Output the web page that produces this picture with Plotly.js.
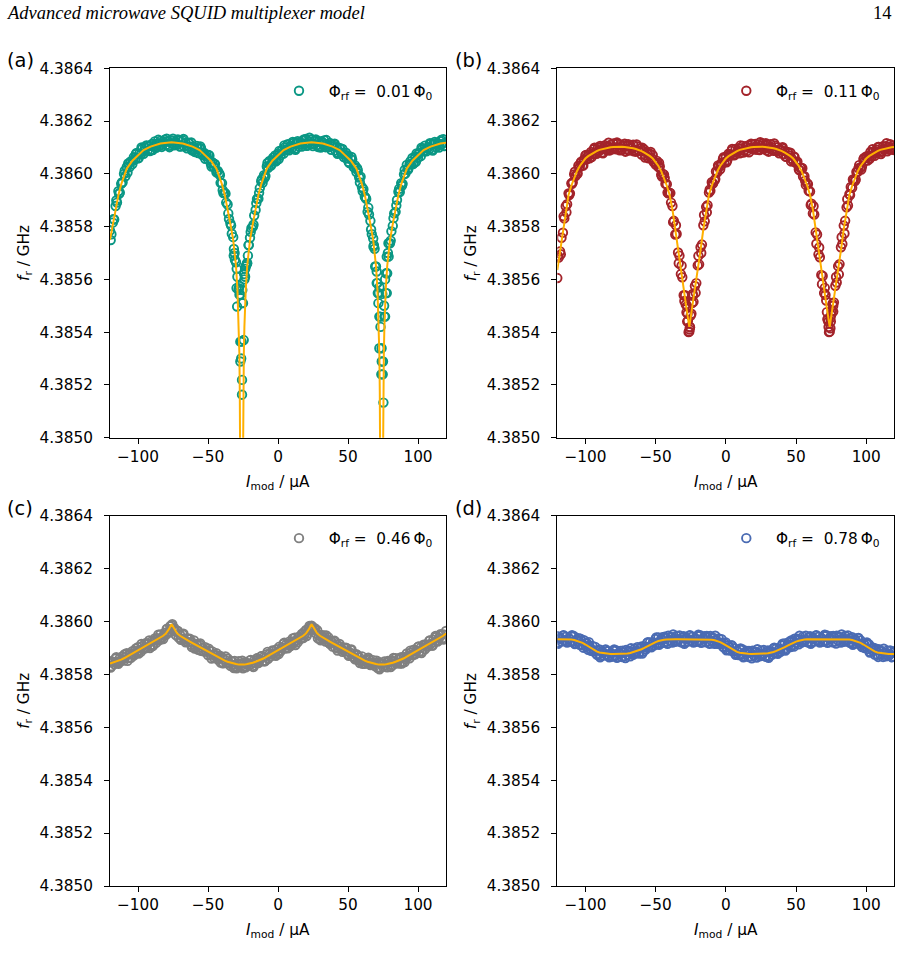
<!DOCTYPE html>
<html>
<head>
<meta charset="utf-8">
<script src="https://cdn.plot.ly/plotly-3.0.1.min.js"></script>
<style>
html, body { margin: 0; padding: 0; background: #fff; }
#chart { width: 901px; height: 964px; }
</style>
</head>
<body>
<div id="chart"></div>
<script>
// Modulation current, first sweep (µA), one sample per µA
const currentGrid = [-120,-119,-118,-117,-116,-115,-114,-113,-112,-111,-110,-109,-108,-107,-106,-105,-104,-103,-102,-101,
-100,-99,-98,-97,-96,-95,-94,-93,-92,-91,-90,-89,-88,-87,-86,-85,-84,-83,-82,-81,
-80,-79,-78,-77,-76,-75,-74,-73,-72,-71,-70,-69,-68,-67,-66,-65,-64,-63,-62,-61,
-60,-59,-58,-57,-56,-55,-54,-53,-52,-51,-50,-49,-48,-47,-46,-45,-44,-43,-42,-41,
-40,-39,-38,-37,-36,-35,-34,-33,-32,-31,-30,-29,-28,-27,-26,-25,-24,-23,-22,-21,
-20,-19,-18,-17,-16,-15,-14,-13,-12,-11,-10,-9,-8,-7,-6,-5,-4,-3,-2,-1,
0,1,2,3,4,5,6,7,8,9,10,11,12,13,14,15,16,17,18,19,
20,21,22,23,24,25,26,27,28,29,30,31,32,33,34,35,36,37,38,39,
40,41,42,43,44,45,46,47,48,49,50,51,52,53,54,55,56,57,58,59,
60,61,62,63,64,65,66,67,68,69,70,71,72,73,74,75,76,77,78,79,
80,81,82,83,84,85,86,87,88,89,90,91,92,93,94,95,96,97,98,99,
100,101,102,103,104,105,106,107,108,109,110,111,112,113,114,115,116,117,118,119,120];

// Modulation current, second sweep (µA), interleaved with the first
const sweep2Grid = [-119.5,-117.5,-115.5,-113.5,-111.5,-109.5,-107.5,-105.5,-103.5,-101.5,
-99.5,-97.5,-95.5,-93.5,-91.5,-89.5,-87.5,-85.5,-83.5,-81.5,
-79.5,-77.5,-75.5,-73.5,-71.5,-69.5,-67.5,-65.5,-63.5,-61.5,
-59.5,-57.5,-55.5,-53.5,-51.5,-49.5,-47.5,-45.5,-43.5,-41.5,
-39.5,-37.5,-35.5,-33.5,-31.5,-29.5,-27.5,-25.5,-23.5,-21.5,
-19.5,-17.5,-15.5,-13.5,-11.5,-9.5,-7.5,-5.5,-3.5,-1.5,
0.5,2.5,4.5,6.5,8.5,10.5,12.5,14.5,16.5,18.5,
20.5,22.5,24.5,26.5,28.5,30.5,32.5,34.5,36.5,38.5,
40.5,42.5,44.5,46.5,48.5,50.5,52.5,54.5,56.5,58.5,
60.5,62.5,64.5,66.5,68.5,70.5,72.5,74.5,76.5,78.5,
80.5,82.5,84.5,86.5,88.5,90.5,92.5,94.5,96.5,98.5,
100.5,102.5,104.5,106.5,108.5,110.5,112.5,114.5,116.5,118.5];

// Model curve sample positions (µA), every 2 µA
const modelGrid = [-120,-118,-116,-114,-112,-110,-108,-106,-104,-102,
-100,-98,-96,-94,-92,-90,-88,-86,-84,-82,
-80,-78,-76,-74,-72,-70,-68,-66,-64,-62,
-60,-58,-56,-54,-52,-50,-48,-46,-44,-42,
-40,-38,-36,-34,-32,-30,-28,-26,-24,-22,
-20,-18,-16,-14,-12,-10,-8,-6,-4,-2,
0,2,4,6,8,10,12,14,16,18,
20,22,24,26,28,30,32,34,36,38,
40,42,44,46,48,50,52,54,56,58,
60,62,64,66,68,70,72,74,76,78,
80,82,84,86,88,90,92,94,96,98,
100,102,104,106,108,110,112,114,116,118,120];

// (a) Φrf = 0.01 Φ0 : measured resonance frequency (GHz)
const freqA = [4.385785,4.385771,4.385815,4.385827,4.385878,4.385891,4.385934,4.385929,4.385962,4.385968,
4.386000,4.385991,4.386026,4.386039,4.386026,4.386047,4.386037,4.386063,4.386056,4.386079,
4.386059,4.386077,4.386073,4.386095,4.386076,4.386099,4.386108,4.386089,4.386105,4.386090,
4.386113,4.386103,4.386123,4.386099,4.386114,4.386106,4.386125,4.386102,4.386123,4.386129,
4.386109,4.386123,4.386106,4.386127,4.386116,4.386133,4.386108,4.386120,4.386111,4.386127,
4.386103,4.386122,4.386127,4.386104,4.386117,4.386097,4.386117,4.386103,4.386119,4.386092,
4.386102,4.386091,4.386106,4.386079,4.386096,4.386097,4.386071,4.386080,4.386057,4.386073,
4.386056,4.386069,4.386039,4.386044,4.386028,4.386037,4.386006,4.386011,4.386002,4.385966,
4.385965,4.385927,4.385928,4.385891,4.385884,4.385829,4.385812,4.385773,4.385760,4.385700,
4.385665,4.385610,4.385567,4.385542,4.385364,4.385510,4.385600,4.385650,4.385661,4.385730,
4.385758,4.385794,4.385799,4.385842,4.385863,4.385905,4.385906,4.385946,4.385972,4.385966,
4.385995,4.385992,4.386028,4.386023,4.386049,4.386031,4.386052,4.386048,4.386070,4.386051,
4.386076,4.386087,4.386071,4.386090,4.386077,4.386101,4.386092,4.386112,4.386089,4.386105,
4.386098,4.386117,4.386095,4.386116,4.386124,4.386104,4.386120,4.386103,4.386125,4.386113,
4.386132,4.386107,4.386121,4.386112,4.386130,4.386105,4.386125,4.386130,4.386109,4.386122,
4.386104,4.386124,4.386111,4.386127,4.386101,4.386112,4.386102,4.386117,4.386091,4.386109,
4.386112,4.386089,4.386101,4.386080,4.386098,4.386081,4.386094,4.386064,4.386072,4.386058,
4.386070,4.386041,4.386056,4.386054,4.386026,4.386032,4.386007,4.386013,4.385986,4.385989,
4.385949,4.385942,4.385913,4.385905,4.385856,4.385846,4.385822,4.385771,4.385755,4.385716,
4.385649,4.385586,4.385548,4.385459,4.385339,4.385289,4.385459,4.385548,4.385623,4.385686,
4.385737,4.385782,4.385803,4.385850,4.385856,4.385901,4.385932,4.385931,4.385965,4.385962,
4.385998,4.386001,4.386034,4.386016,4.386037,4.386035,4.386060,4.386041,4.386066,4.386077,
4.386061,4.386080,4.386067,4.386093,4.386086,4.386107,4.386085,4.386100,4.386093,4.386113,
4.386091,4.386113,4.386121,4.386101,4.386117,4.386100,4.386123,4.386112,4.386131,4.386106,
4.386120];
const freqA2 = [4.385749,4.385828,4.385899,4.385924,4.385967,4.386012,4.386005,4.386045,4.386050,4.386075,
4.386060,4.386100,4.386086,4.386106,4.386086,4.386090,4.386112,4.386129,4.386109,4.386117,
4.386133,4.386101,4.386126,4.386116,4.386130,4.386104,4.386132,4.386106,4.386117,4.386089,
4.386083,4.386097,4.386104,4.386071,4.386067,4.386072,4.386028,4.386038,4.386010,4.385995,
4.385938,4.385925,4.385850,4.385804,4.385715,4.385640,4.385575,4.385560,4.385610,4.385690,
4.385780,4.385807,4.385889,4.385928,4.385980,4.385985,4.386041,4.386033,4.386061,4.386047,
4.386056,4.386085,4.386108,4.386091,4.386101,4.386121,4.386091,4.386119,4.386113,4.386130,
4.386106,4.386137,4.386114,4.386127,4.386102,4.386100,4.386117,4.386128,4.386102,4.386104,
4.386114,4.386076,4.386094,4.386075,4.386080,4.386045,4.386064,4.386026,4.386021,4.385967,
4.385934,4.385910,4.385872,4.385789,4.385730,4.385630,4.385570,4.385545,4.385600,4.385700,
4.385747,4.385832,4.385880,4.385943,4.385955,4.386015,4.386018,4.386047,4.386037,4.386046,
4.386075,4.386099,4.386085,4.386097,4.386116,4.386088,4.386116,4.386110,4.386128,4.386105];

// (a) extra points that fall inside the two narrow dips
const dipCurrentA = [-31.6,-30.8,-29.6,-29.2,-28.1,-27.5,-26.9,-26.9,-26.3,-25.7,-25.7,-25.7,-24.5,-24.2,-23.4,-22.6,-22.1,-20.9,
68.2,69.4,70.5,71.3,71.7,72.4,72.4,74.1,73.8,74.8,75.3,76.5,77.7,77.2,77.7,78.9,73.2,75.8];
const dipFreqA = [4.385690,4.385674,4.385567,4.385497,4.385560,4.385542,4.385364,4.385289,4.385300,4.385219,4.385163,4.385510,4.385370,4.385620,4.385640,4.385655,4.385661,4.385730,
4.385724,4.385649,4.385586,4.385548,4.385510,4.385459,4.385339,4.385289,4.385240,4.385240,4.385133,4.385459,4.385548,4.385623,4.385686,4.385737,4.385420,4.385500];

// (a) model curve, sampled more finely around the dips
const modelCurrentA = [-120,-118,-116,-114,-112,-110,-108,-104,-100,-96,-91,-84,-76,
-68,-61,-56,-52,-48,-44,-42,-40,-38,-36,-34,-32,-31,-30,-29,-28.5,-28,-27.6,-27.3,-27,-26.7,-26.4,-26,
-25.6,-25.3,-25,-24.7,-24.4,-24,-23.5,-23,-22,-21,-20,-18,-16,-14,-12,-10,-8,-4,0,4,9,16,24,
32,39,44,48,52,56,58,60,62,64,66,68,69,70,71,71.5,72,72.4,72.7,73,73.3,73.6,74,
74.4,74.7,75,75.3,75.6,76,76.5,77,78,79,80,82,84,86,88,90,92,96,100,104,109,116,120];
const modelFreqA = [4.38575,4.38581,4.38587,4.38592,4.38596,4.38599,4.38602,4.38605,4.38607,4.38609,4.386103,4.386115,4.38612,
4.386115,4.386103,4.38609,4.38607,4.38605,4.38602,4.38599,4.38596,4.38592,4.38587,4.38581,4.38575,4.38571,4.38565,4.385565,4.3855,4.38542,4.38532,4.38518,4.385,4.3847,4.3843,4.3838,
4.3843,4.3847,4.385,4.38518,4.38532,4.38542,4.3855,4.385565,4.38565,4.38571,4.38575,4.38581,4.38587,4.38592,4.38596,4.38599,4.38602,4.38605,4.38607,4.38609,4.386103,4.386115,4.38612,
4.386115,4.386103,4.38609,4.38607,4.38605,4.38602,4.38599,4.38596,4.38592,4.38587,4.38581,4.38575,4.38571,4.38565,4.385565,4.3855,4.38542,4.38532,4.38518,4.385,4.3847,4.3843,4.3838,
4.3843,4.3847,4.385,4.38518,4.38532,4.38542,4.3855,4.385565,4.38565,4.38571,4.38575,4.38581,4.38587,4.38592,4.38596,4.38599,4.38602,4.38605,4.38607,4.38609,4.386103,4.386115,4.386118];

// (b) Φrf = 0.11 Φ0
const freqB = [4.385605,4.385683,4.385706,4.385758,4.385777,4.385831,4.385877,4.385885,4.385926,4.385926,
4.385964,4.385968,4.385998,4.385992,4.386000,4.386031,4.386026,4.386046,4.386032,4.386055,
4.386070,4.386055,4.386073,4.386059,4.386083,4.386075,4.386093,4.386077,4.386076,4.386100,
4.386087,4.386101,4.386081,4.386099,4.386109,4.386090,4.386105,4.386088,4.386110,4.386099,
4.386115,4.386096,4.386093,4.386114,4.386099,4.386111,4.386090,4.386105,4.386114,4.386093,
4.386107,4.386088,4.386108,4.386096,4.386110,4.386090,4.386084,4.386104,4.386087,4.386097,
4.386073,4.386086,4.386092,4.386069,4.386080,4.386059,4.386076,4.386061,4.386071,4.386046,
4.386035,4.386049,4.386026,4.386028,4.385997,4.386001,4.385997,4.385962,4.385961,4.385926,
4.385929,4.385891,4.385878,4.385822,4.385770,4.385772,4.385702,4.385690,4.385620,4.385608,
4.385540,4.385540,4.385475,4.385443,4.385402,4.385463,4.385510,4.385515,4.385575,4.385586,
4.385653,4.385657,4.385722,4.385732,4.385805,4.385820,4.385875,4.385881,4.385929,4.385936,
4.385968,4.385964,4.385975,4.386009,4.386006,4.386028,4.386017,4.386041,4.386057,4.386044,
4.386064,4.386051,4.386076,4.386069,4.386087,4.386071,4.386070,4.386094,4.386082,4.386097,
4.386078,4.386096,4.386106,4.386088,4.386103,4.386086,4.386108,4.386098,4.386114,4.386095,
4.386092,4.386113,4.386099,4.386111,4.386090,4.386106,4.386115,4.386094,4.386108,4.386089,
4.386110,4.386098,4.386112,4.386092,4.386087,4.386107,4.386090,4.386101,4.386078,4.386092,
4.386098,4.386075,4.386086,4.386065,4.386083,4.386069,4.386080,4.386057,4.386048,4.386063,
4.386041,4.386046,4.386017,4.386023,4.386022,4.385990,4.385991,4.385958,4.385964,4.385936,
4.385933,4.385887,4.385850,4.385846,4.385778,4.385770,4.385695,4.385684,4.385617,4.385613,
4.385548,4.385541,4.385476,4.385440,4.385402,4.385465,4.385508,4.385513,4.385576,4.385588,
4.385650,4.385658,4.385722,4.385734,4.385804,4.385822,4.385873,4.385880,4.385923,4.385950,
4.385947,4.385976,4.385973,4.386007,4.386008,4.386033,4.386024,4.386028,4.386056,4.386048,
4.386066,4.386050,4.386070,4.386083,4.386066,4.386083,4.386068,4.386092,4.386084,4.386102,
4.386085,4.386083,4.386105,4.386092,4.386105,4.386085,4.386102,4.386112,4.386093,4.386107,
4.386090];
const freqB2 = [4.385689,4.385695,4.385839,4.385854,4.385920,4.385962,4.386008,4.386001,4.386040,4.386031,
4.386072,4.386069,4.386064,4.386099,4.386084,4.386106,4.386078,4.386100,4.386118,4.386092,
4.386101,4.386119,4.386089,4.386109,4.386084,4.386112,4.386099,4.386085,4.386111,4.386086,
4.386099,4.386062,4.386075,4.386083,4.386046,4.386041,4.386041,4.385990,4.385984,4.385929,
4.385927,4.385817,4.385805,4.385661,4.385652,4.385518,4.385498,4.385418,4.385538,4.385549,
4.385689,4.385700,4.385844,4.385854,4.385940,4.385963,4.385980,4.386032,4.386030,4.386063,
4.386044,4.386071,4.386094,4.386073,4.386087,4.386108,4.386081,4.386104,4.386082,4.386112,
4.386102,4.386091,4.386120,4.386099,4.386116,4.386084,4.386101,4.386115,4.386085,4.386089,
4.386101,4.386065,4.386079,4.386047,4.386066,4.386042,4.386013,4.386021,4.385974,4.385961,
4.385882,4.385877,4.385735,4.385721,4.385582,4.385568,4.385448,4.385453,4.385478,4.385609,
4.385619,4.385760,4.385774,4.385904,4.385920,4.385979,4.385978,4.386021,4.386016,4.386060,
4.386061,4.386057,4.386093,4.386078,4.386102,4.386075,4.386097,4.386116,4.386091,4.386100];
const dipCurrentB = [-27.5,-25.5,-26.5,-25.8,-28.5,-23.5,-24.5,-27.2,73.5,74.5,72.5,75.5,71.5,76.5,73.2,74.8];
const dipFreqB = [4.385440,4.385420,4.385400,4.385410,4.385505,4.385545,4.385470,4.385470,4.385400,4.385415,4.385450,4.385480,4.385520,4.385500,4.385420,4.385440];
const modelFreqB = [4.385635,4.385710,4.385790,4.385865,4.385920,4.385955,4.385985,4.386010,4.386030,4.386045,
4.386058,4.386067,4.386074,4.386080,4.386086,4.386091,4.386094,4.386097,4.386099,4.386101,
4.386102,4.386103,4.386103,4.386103,4.386102,4.386101,4.386099,4.386097,4.386094,4.386091,
4.386086,4.386080,4.386074,4.386067,4.386058,4.386045,4.386030,4.386010,4.385985,4.385955,
4.385920,4.385865,4.385790,4.385710,4.385635,4.385560,4.385490,4.385420,4.385490,4.385560,
4.385635,4.385710,4.385790,4.385865,4.385920,4.385955,4.385985,4.386010,4.386030,4.386045,
4.386058,4.386067,4.386074,4.386080,4.386086,4.386091,4.386094,4.386097,4.386099,4.386101,
4.386102,4.386103,4.386103,4.386103,4.386102,4.386101,4.386099,4.386097,4.386094,4.386091,
4.386086,4.386080,4.386074,4.386067,4.386058,4.386045,4.386030,4.386010,4.385985,4.385955,
4.385920,4.385865,4.385790,4.385710,4.385635,4.385560,4.385490,4.385420,4.385490,4.385560,
4.385635,4.385710,4.385790,4.385865,4.385920,4.385955,4.385985,4.386010,4.386030,4.386045,
4.386058,4.386067,4.386074,4.386080,4.386086,4.386091,4.386094,4.386097,4.386099,4.386101,
4.386102];

// (c) Φrf = 0.46 Φ0
const freqC = [4.385850,4.385831,4.385848,4.385839,4.385860,4.385847,4.385840,4.385861,4.385851,4.385869,
4.385852,4.385866,4.385880,4.385862,4.385878,4.385863,4.385888,4.385871,4.385889,4.385881,
4.385903,4.385891,4.385885,4.385907,4.385898,4.385917,4.385900,4.385914,4.385928,4.385910,
4.385926,4.385911,4.385936,4.385919,4.385937,4.385929,4.385951,4.385939,4.385934,4.385957,
4.385950,4.385973,4.385961,4.385982,4.385986,4.385972,4.385975,4.385949,4.385964,4.385939,
4.385950,4.385935,4.385951,4.385933,4.385921,4.385937,4.385922,4.385935,4.385912,4.385920,
4.385928,4.385904,4.385914,4.385893,4.385912,4.385889,4.385901,4.385887,4.385903,4.385885,
4.385873,4.385889,4.385874,4.385887,4.385864,4.385872,4.385880,4.385856,4.385866,4.385845,
4.385865,4.385843,4.385856,4.385843,4.385860,4.385843,4.385832,4.385849,4.385836,4.385851,
4.385830,4.385840,4.385850,4.385828,4.385841,4.385823,4.385846,4.385827,4.385843,4.385833,
4.385853,4.385839,4.385832,4.385853,4.385843,4.385861,4.385843,4.385856,4.385869,4.385850,
4.385866,4.385851,4.385876,4.385859,4.385877,4.385869,4.385891,4.385879,4.385873,4.385895,
4.385886,4.385905,4.385888,4.385902,4.385916,4.385898,4.385914,4.385899,4.385924,4.385907,
4.385925,4.385917,4.385939,4.385927,4.385921,4.385943,4.385934,4.385953,4.385937,4.385952,
4.385968,4.385954,4.385975,4.385967,4.385984,4.385969,4.385974,4.385955,4.385967,4.385947,
4.385934,4.385949,4.385934,4.385947,4.385924,4.385932,4.385940,4.385916,4.385926,4.385905,
4.385924,4.385901,4.385913,4.385899,4.385915,4.385897,4.385885,4.385901,4.385886,4.385899,
4.385876,4.385884,4.385892,4.385868,4.385878,4.385857,4.385876,4.385853,4.385865,4.385851,
4.385868,4.385851,4.385840,4.385857,4.385843,4.385857,4.385835,4.385844,4.385854,4.385832,
4.385844,4.385825,4.385846,4.385825,4.385840,4.385829,4.385849,4.385835,4.385827,4.385847,
4.385836,4.385853,4.385835,4.385848,4.385861,4.385842,4.385857,4.385841,4.385865,4.385847,
4.385865,4.385857,4.385879,4.385867,4.385861,4.385883,4.385874,4.385893,4.385876,4.385890,
4.385904,4.385886,4.385902,4.385887,4.385912,4.385895,4.385913,4.385905,4.385927,4.385915,
4.385909,4.385931,4.385922,4.385941,4.385924,4.385938,4.385952,4.385934,4.385951,4.385937,
4.385964];
const freqC2 = [4.385826,4.385847,4.385865,4.385846,4.385857,4.385876,4.385851,4.385879,4.385877,4.385898,
4.385879,4.385915,4.385898,4.385918,4.385900,4.385907,4.385930,4.385950,4.385933,4.385948,
4.385972,4.385958,4.385990,4.385963,4.385964,4.385931,4.385954,4.385925,4.385933,4.385903,
4.385898,4.385909,4.385917,4.385888,4.385889,4.385897,4.385860,4.385876,4.385862,4.385871,
4.385842,4.385868,4.385841,4.385851,4.385824,4.385823,4.385838,4.385852,4.385830,4.385839,
4.385855,4.385828,4.385854,4.385850,4.385869,4.385849,4.385885,4.385868,4.385888,4.385870,
4.385877,4.385900,4.385920,4.385903,4.385916,4.385936,4.385911,4.385939,4.385937,4.385960,
4.385945,4.385983,4.385979,4.385974,4.385936,4.385929,4.385939,4.385947,4.385918,4.385919,
4.385927,4.385890,4.385906,4.385892,4.385901,4.385870,4.385894,4.385865,4.385873,4.385843,
4.385840,4.385853,4.385863,4.385836,4.385840,4.385852,4.385819,4.385841,4.385834,4.385851,
4.385828,4.385862,4.385843,4.385861,4.385841,4.385847,4.385870,4.385890,4.385873,4.385886,
4.385906,4.385881,4.385909,4.385907,4.385928,4.385909,4.385945,4.385928,4.385948,4.385932];
const modelFreqC = [4.385841,4.385844,4.385848,4.385852,4.385856,4.385861,4.385867,4.385873,4.385879,4.385885,
4.385891,4.385897,4.385903,4.385909,4.385915,4.385921,4.385927,4.385933,4.385939,4.385946,
4.385955,4.385970,4.385990,4.385970,4.385955,4.385946,4.385939,4.385933,4.385927,4.385921,
4.385915,4.385909,4.385903,4.385897,4.385891,4.385885,4.385879,4.385873,4.385867,4.385861,
4.385856,4.385852,4.385848,4.385844,4.385841,4.385839,4.385837,4.385836,4.385837,4.385839,
4.385841,4.385844,4.385848,4.385852,4.385856,4.385861,4.385867,4.385873,4.385879,4.385885,
4.385891,4.385897,4.385903,4.385909,4.385915,4.385921,4.385927,4.385933,4.385939,4.385946,
4.385955,4.385970,4.385990,4.385970,4.385955,4.385946,4.385939,4.385933,4.385927,4.385921,
4.385915,4.385909,4.385903,4.385897,4.385891,4.385885,4.385879,4.385873,4.385867,4.385861,
4.385856,4.385852,4.385848,4.385844,4.385841,4.385839,4.385837,4.385836,4.385837,4.385839,
4.385841,4.385844,4.385848,4.385852,4.385856,4.385861,4.385867,4.385873,4.385879,4.385885,
4.385891,4.385897,4.385903,4.385909,4.385915,4.385921,4.385927,4.385933,4.385939,4.385946,
4.385955];

// (d) Φrf = 0.78 Φ0
const freqD = [4.385944,4.385921,4.385939,4.385924,4.385946,4.385928,4.385942,4.385920,4.385936,4.385923,
4.385944,4.385924,4.385944,4.385918,4.385932,4.385937,4.385912,4.385928,4.385910,4.385929,
4.385908,4.385919,4.385893,4.385906,4.385889,4.385908,4.385886,4.385904,4.385876,4.385890,
4.385894,4.385870,4.385887,4.385871,4.385892,4.385874,4.385887,4.385865,4.385880,4.385867,
4.385889,4.385870,4.385891,4.385866,4.385882,4.385889,4.385866,4.385884,4.385869,4.385892,
4.385874,4.385889,4.385868,4.385885,4.385874,4.385897,4.385880,4.385903,4.385880,4.385898,
4.385906,4.385886,4.385906,4.385894,4.385919,4.385904,4.385921,4.385902,4.385920,4.385910,
4.385934,4.385917,4.385940,4.385916,4.385934,4.385941,4.385919,4.385938,4.385923,4.385946,
4.385928,4.385942,4.385920,4.385936,4.385923,4.385945,4.385926,4.385947,4.385922,4.385938,
4.385944,4.385921,4.385939,4.385924,4.385946,4.385928,4.385942,4.385920,4.385936,4.385923,
4.385945,4.385926,4.385947,4.385922,4.385938,4.385944,4.385921,4.385939,4.385924,4.385945,
4.385926,4.385939,4.385916,4.385930,4.385916,4.385936,4.385915,4.385933,4.385905,4.385918,
4.385921,4.385894,4.385909,4.385890,4.385909,4.385888,4.385899,4.385874,4.385888,4.385873,
4.385894,4.385874,4.385894,4.385868,4.385884,4.385889,4.385866,4.385883,4.385868,4.385890,
4.385872,4.385886,4.385864,4.385880,4.385868,4.385890,4.385871,4.385892,4.385868,4.385884,
4.385891,4.385869,4.385888,4.385875,4.385898,4.385882,4.385898,4.385878,4.385896,4.385885,
4.385910,4.385893,4.385917,4.385895,4.385914,4.385923,4.385903,4.385923,4.385911,4.385935,
4.385919,4.385935,4.385914,4.385932,4.385920,4.385943,4.385925,4.385946,4.385922,4.385938,
4.385944,4.385921,4.385939,4.385924,4.385946,4.385928,4.385942,4.385920,4.385936,4.385923,
4.385945,4.385926,4.385947,4.385922,4.385938,4.385944,4.385921,4.385939,4.385924,4.385946,
4.385928,4.385942,4.385920,4.385936,4.385923,4.385945,4.385926,4.385947,4.385921,4.385936,
4.385941,4.385917,4.385933,4.385917,4.385937,4.385917,4.385928,4.385903,4.385916,4.385900,
4.385918,4.385896,4.385913,4.385885,4.385898,4.385901,4.385875,4.385891,4.385874,4.385895,
4.385876,4.385889,4.385866,4.385882,4.385868,4.385890,4.385870,4.385891,4.385866,4.385882,
4.385888];
const freqD2 = [4.385916,4.385934,4.385948,4.385925,4.385936,4.385948,4.385915,4.385925,4.385935,4.385901,
4.385917,4.385922,4.385892,4.385891,4.385874,4.385865,4.385881,4.385894,4.385870,4.385880,
4.385894,4.385863,4.385876,4.385890,4.385862,4.385885,4.385899,4.385879,4.385888,4.385880,
4.385879,4.385902,4.385922,4.385905,4.385921,4.385940,4.385912,4.385928,4.385943,4.385916,
4.385939,4.385951,4.385928,4.385933,4.385921,4.385916,4.385934,4.385948,4.385925,4.385936,
4.385950,4.385919,4.385932,4.385945,4.385916,4.385936,4.385946,4.385920,4.385920,4.385902,
4.385891,4.385902,4.385909,4.385880,4.385887,4.385898,4.385865,4.385877,4.385889,4.385861,
4.385883,4.385895,4.385873,4.385878,4.385867,4.385863,4.385884,4.385901,4.385882,4.385897,
4.385916,4.385890,4.385909,4.385928,4.385905,4.385931,4.385946,4.385925,4.385932,4.385921,
4.385916,4.385934,4.385948,4.385925,4.385936,4.385950,4.385919,4.385932,4.385945,4.385917,
4.385939,4.385951,4.385928,4.385933,4.385919,4.385912,4.385927,4.385938,4.385909,4.385914,
4.385921,4.385883,4.385890,4.385898,4.385866,4.385886,4.385897,4.385873,4.385877,4.385865];
const modelFreqD = [4.385933,4.385933,4.385933,4.385933,4.385933,4.385932,4.385930,4.385927,4.385924,4.385919,
4.385913,4.385906,4.385899,4.385893,4.385887,4.385883,4.385881,4.385879,4.385878,4.385877,
4.385877,4.385877,4.385877,4.385878,4.385878,4.385879,4.385881,4.385884,4.385887,4.385891,
4.385895,4.385900,4.385906,4.385912,4.385917,4.385922,4.385926,4.385929,4.385931,4.385932,
4.385933,4.385933,4.385933,4.385933,4.385933,4.385933,4.385933,4.385933,4.385933,4.385933,
4.385933,4.385933,4.385933,4.385933,4.385933,4.385931,4.385929,4.385926,4.385922,4.385916,
4.385910,4.385903,4.385896,4.385890,4.385885,4.385882,4.385880,4.385879,4.385878,4.385877,
4.385877,4.385877,4.385878,4.385878,4.385879,4.385880,4.385882,4.385885,4.385889,4.385893,
4.385898,4.385903,4.385909,4.385915,4.385920,4.385924,4.385927,4.385930,4.385932,4.385933,
4.385933,4.385933,4.385933,4.385933,4.385933,4.385933,4.385933,4.385933,4.385933,4.385933,
4.385933,4.385933,4.385933,4.385933,4.385932,4.385930,4.385927,4.385924,4.385919,4.385913,
4.385906,4.385899,4.385893,4.385887,4.385883,4.385881,4.385879,4.385878,4.385877,4.385877,
4.385877];

// Axis ticks and labels
const xTickVals = [-100, -50, 0, 50, 100];
const xTickText = ['\u2212100', '\u221250', '0', '50', '100'];
const yTickVals = [4.3850, 4.3852, 4.3854, 4.3856, 4.3858, 4.3860, 4.3862, 4.3864];
const yTickText = ['4.3850', '4.3852', '4.3854', '4.3856', '4.3858', '4.3860', '4.3862', '4.3864'];

const panelLabels = ['(a)', '(b)', '(c)', '(d)'];
const fluxLabels = ['0.01', '0.11', '0.46', '0.78'];
const dataColors = ['#0a9784', '#a3232a', '#808080', '#4a6bb3'];
const modelColor = '#ffb000';

const W = 901, H = 964;
const px = v => v / W;
const py = v => 1 - v / H;

// plot-area boxes in pixels: [left, right, top, bottom]
const boxes = [
  [110, 446, 68.3, 437.7],
  [557.3, 894.3, 68.3, 437.7],
  [110, 446, 515.7, 886],
  [557.3, 894.3, 515.7, 886]
];

const sans = 'DejaVu Sans, Arial, sans-serif';
const tickSize = 15.3;

const panels = [
  { x: currentGrid.concat(sweep2Grid, dipCurrentA), y: freqA.concat(freqA2, dipFreqA), mx: modelCurrentA, my: modelFreqA },
  { x: currentGrid.concat(sweep2Grid, dipCurrentB), y: freqB.concat(freqB2, dipFreqB), mx: modelGrid, my: modelFreqB },
  { x: currentGrid.concat(sweep2Grid), y: freqC.concat(freqC2), mx: modelGrid, my: modelFreqC },
  { x: currentGrid.concat(sweep2Grid), y: freqD.concat(freqD2), mx: modelGrid, my: modelFreqD }
];

const traces = [];
const layout = {
  width: W, height: H,
  margin: { l: 0, r: 0, t: 0, b: 0 },
  paper_bgcolor: '#fff', plot_bgcolor: '#fff',
  showlegend: true,
  annotations: []
};

panels.forEach((p, i) => {
  const k = i === 0 ? '' : String(i + 1);
  const b = boxes[i];
  const legendName = i === 0 ? 'legend' : 'legend' + (i + 1);
  traces.push({
    x: p.x, y: p.y, type: 'scatter', mode: 'markers',
    xaxis: 'x' + k, yaxis: 'y' + k, legend: legendName,
    name: '\u00a0\u00a0\u03a6<sub>rf</sub> =\u00a0\u00a0' + fluxLabels[i] + '\u2009\u03a6<sub>0</sub>',
    marker: { symbol: 'circle-open', size: 8.5, color: dataColors[i], line: { width: 1.9, color: dataColors[i] } }
  });
  traces.push({
    x: p.mx, y: p.my, type: 'scatter', mode: 'lines',
    xaxis: 'x' + k, yaxis: 'y' + k, showlegend: false,
    line: { color: modelColor, width: 2 }
  });

  const axisCommon = {
    showline: true, mirror: true, linecolor: '#000', linewidth: 1,
    ticks: 'outside', ticklen: 5, tickwidth: 1, tickcolor: '#000',
    showgrid: false, zeroline: false, fixedrange: true,
    tickfont: { family: sans, size: tickSize, color: '#000' }
  };
  layout['xaxis' + k] = Object.assign({}, axisCommon, {
    domain: [px(b[0]), px(b[1])], anchor: 'y' + k,
    range: [-120, 120], tickmode: 'array', tickvals: xTickVals, ticktext: xTickText,
    ticklabelstandoff: 0
  });
  layout['yaxis' + k] = Object.assign({}, axisCommon, {
    domain: [py(b[3]), py(b[2])], anchor: 'x' + k,
    range: [4.3850, 4.3864], tickmode: 'array', tickvals: yTickVals, ticktext: yTickText,
    ticklabelstandoff: 8
  });

  layout[legendName] = {
    x: px(b[0] + 169), y: py(b[2] + 22.5), xanchor: 'left', yanchor: 'middle',
    bgcolor: 'rgba(0,0,0,0)', borderwidth: 0,
    font: { family: sans, size: tickSize, color: '#000' }
  };

  const cx = (b[0] + b[1]) / 2, cy = (b[2] + b[3]) / 2;
  layout.annotations.push({
    xref: 'paper', yref: 'paper', x: px(cx), y: py(b[3] + 45), showarrow: false,
    xanchor: 'center', yanchor: 'middle',
    text: '<i>I</i><sub>mod</sub> / \u00b5A', font: { family: sans, size: tickSize, color: '#000' }
  });
  layout.annotations.push({
    xref: 'paper', yref: 'paper', x: px(b[0] - 85), y: py(cy), showarrow: false,
    xanchor: 'center', yanchor: 'middle', textangle: -90,
    text: '<i>f</i><sub>r</sub> / GHz', font: { family: sans, size: tickSize, color: '#000' }
  });
  layout.annotations.push({
    xref: 'paper', yref: 'paper', x: px(i % 2 === 0 ? 5 : 453), y: py(b[2] - 7.5), showarrow: false,
    xanchor: 'left', yanchor: 'middle',
    text: panelLabels[i], font: { family: sans, size: 19.4, color: '#000' }
  });
});

layout.annotations.push({
  xref: 'paper', yref: 'paper', x: px(4), y: py(13), showarrow: false,
  xanchor: 'left', yanchor: 'middle',
  text: '<i>Advanced microwave SQUID multiplexer model</i>',
  font: { family: 'Liberation Serif, Times New Roman, serif', size: 18.5, color: '#000' }
});
layout.annotations.push({
  xref: 'paper', yref: 'paper', x: px(894), y: py(13), showarrow: false,
  xanchor: 'right', yanchor: 'middle',
  text: '14',
  font: { family: 'Liberation Serif, Times New Roman, serif', size: 18.5, color: '#000' }
});

Plotly.newPlot('chart', traces, layout, { staticPlot: true, displayModeBar: false });
</script>
</body>
</html>
